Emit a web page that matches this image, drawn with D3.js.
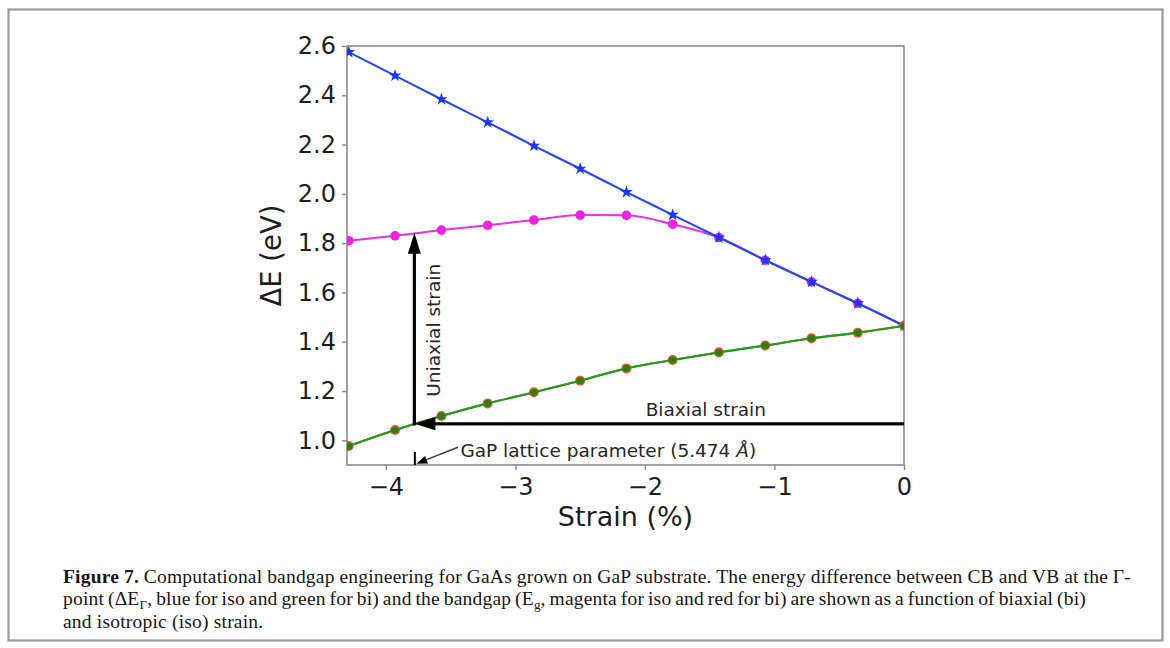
<!DOCTYPE html>
<html>
<head>
<meta charset="utf-8">
<script src="https://cdn.jsdelivr.net/npm/d3@7"></script>
<style>
  html, body { margin: 0; padding: 0; background: #fff; }
  svg { display: block; }
</style>
</head>
<body>
<svg id="fig" width="1170" height="648"></svg>
<script>
// Strain (%) of the GaAs cell relative to its equilibrium lattice constant
const strain   = [-4.286, -3.929, -3.571, -3.214, -2.857, -2.500, -2.143, -1.786, -1.429, -1.071, -0.714, -0.357, 0.0];
// CB-VB difference at Gamma, isotropic strain (blue)
const gammaIso = [2.575, 2.480, 2.384, 2.290, 2.195, 2.102, 2.007, 1.915, 1.823, 1.731, 1.643, 1.556, 1.465];
// Bandgap, isotropic strain (magenta)
const gapIso   = [1.810, 1.830, 1.853, 1.873, 1.894, 1.914, 1.913, 1.877, 1.823, 1.731, 1.643, 1.556, 1.465];
// CB-VB difference at Gamma, biaxial strain (green)
const gammaBi  = [0.977, 1.042, 1.099, 1.150, 1.195, 1.242, 1.292, 1.326, 1.357, 1.385, 1.414, 1.437, 1.465];
// Bandgap, biaxial strain (red)
const gapBi    = [0.977, 1.042, 1.099, 1.150, 1.195, 1.242, 1.292, 1.326, 1.357, 1.385, 1.414, 1.437, 1.465];

const xTicks = [-4, -3, -2, -1, 0];
const yTicks = [1.0, 1.2, 1.4, 1.6, 1.8, 2.0, 2.2, 2.4, 2.6];

// Strain at the GaP lattice parameter and the arrow levels drawn from it
const gapStrain    = -3.78;
const biaxialLevel = 1.067;
const uniaxialTop  = 1.842;

const xLabel = "Strain (%)";
const yLabel = "ΔE (eV)";

const svg = d3.select("#fig");
const plot = { left: 347, right: 904, top: 46, bottom: 465 };

const x = d3.scaleLinear().domain([-4.3, 0]).range([plot.left, plot.right]);
const y = d3.scaleLinear().domain([0.9, 2.6]).range([plot.bottom, plot.top]);

const sans = "'DejaVu Sans', sans-serif";
const serif = "'Liberation Serif', 'DejaVu Serif', serif";
const ink = "#1e1e1e";
const spine = "#8a8a8a";

// outer figure border
svg.append("rect")
  .attr("x", 8.5).attr("y", 9.5).attr("width", 1154).attr("height", 631)
  .attr("fill", "none").attr("stroke", "#9a9a9a").attr("stroke-width", 2.2);

const g = svg.append("g");

// clip region for the data
svg.append("defs").append("clipPath").attr("id", "plotClip")
  .append("rect")
  .attr("x", plot.left).attr("y", plot.top)
  .attr("width", plot.right - plot.left).attr("height", plot.bottom - plot.top);

// axes
const xAxis = d3.axisBottom(x).tickValues(xTicks).tickSize(5).tickPadding(8)
  .tickFormat(d => d3.format("d")(d).replace("-", "\u2212"));
const yAxis = d3.axisLeft(y).tickValues(yTicks).tickSize(5).tickPadding(6)
  .tickFormat(d3.format(".1f"));

const gx = g.append("g").attr("transform", `translate(0,${plot.bottom})`).call(xAxis);
const gy = g.append("g").attr("transform", `translate(${plot.left},0)`).call(yAxis);
[gx, gy].forEach(ax => {
  ax.select(".domain").remove();
  ax.selectAll(".tick line").attr("stroke", spine).attr("stroke-width", 1.4);
  ax.selectAll(".tick text").attr("fill", ink).style("font-family", sans).style("font-size", "24px");
});

// frame
g.append("rect")
  .attr("x", plot.left).attr("y", plot.top)
  .attr("width", plot.right - plot.left).attr("height", plot.bottom - plot.top)
  .attr("fill", "none").attr("stroke", spine).attr("stroke-width", 1.6);

// axis titles
g.append("text")
  .attr("x", (plot.left + plot.right) / 2).attr("y", 526)
  .attr("text-anchor", "middle").attr("fill", ink)
  .style("font-family", sans).style("font-size", "27px")
  .text(xLabel);
g.append("text")
  .attr("transform", `translate(281,${(plot.top + plot.bottom) / 2}) rotate(-90)`)
  .attr("text-anchor", "middle").attr("fill", ink)
  .style("font-family", sans).style("font-size", "27.5px")
  .text(yLabel);

// data series
const data = g.append("g").attr("clip-path", "url(#plotClip)");
const lineGen = vals => d3.line()
  .x((d, i) => x(strain[i]))
  .y(d => y(d))
  .curve(d3.curveMonotoneX)(vals);

function series(vals, color, width) {
  data.append("path").attr("d", lineGen(vals))
    .attr("fill", "none").attr("stroke", color).attr("stroke-width", width)
    .attr("stroke-linejoin", "round");
}
function dots(vals, color, r) {
  data.append("g").selectAll("circle").data(vals).join("circle")
    .attr("cx", (d, i) => x(strain[i])).attr("cy", d => y(d))
    .attr("r", r).attr("fill", color);
}
function stars(vals, color, size) {
  const sym = d3.symbol().type(d3.symbolStar).size(size);
  data.append("g").selectAll("path").data(vals).join("path")
    .attr("transform", (d, i) => `translate(${x(strain[i])},${y(d)})`)
    .attr("d", sym).attr("fill", color);
}

series(gapIso, "#ef2ee3", 2);
dots(gapIso, "#ee22e0", 4.8);
series(gammaIso, "#2248ee", 2.1);
stars(gammaIso, "#1c35f0", 50);
series(gapBi, "#e8552a", 2);
dots(gapBi, "#ea5a2c", 5);
series(gammaBi, "#1f9d22", 2.1);
dots(gammaBi, "#2e7e16", 3.6);

// strain arrows from the GaP lattice point
const ax0 = x(gapStrain), ay0 = y(biaxialLevel);
const lw = 3.2, headL = 21, headW = 13;
const ann = g.append("g").attr("fill", "#000").attr("stroke", "none");
// biaxial: from zero strain back to the GaP lattice parameter
ann.append("rect")
  .attr("x", ax0 + headL - 1).attr("y", ay0 - lw / 2)
  .attr("width", x(0) - ax0 - headL + 1).attr("height", lw);
ann.append("path")
  .attr("d", `M${ax0},${ay0} L${ax0 + headL},${ay0 - headW / 2} L${ax0 + headL},${ay0 + headW / 2} Z`);
// uniaxial: from the biaxial point up to the isotropic bandgap
const ayTop = y(uniaxialTop);
ann.append("rect")
  .attr("x", ax0 - lw / 2).attr("y", ayTop + headL - 1)
  .attr("width", lw).attr("height", ay0 - ayTop - headL + 1 + lw / 2);
ann.append("path")
  .attr("d", `M${ax0},${ayTop} L${ax0 - headW / 2},${ayTop + headL} L${ax0 + headW / 2},${ayTop + headL} Z`);

g.append("text")
  .attr("transform", `translate(${ax0 + 26},${(ayTop + ay0) / 2 + 2}) rotate(-90)`)
  .attr("text-anchor", "middle").attr("fill", "#262626")
  .style("font-family", sans).style("font-size", "18.5px")
  .text("Uniaxial strain");
g.append("text")
  .attr("x", x(-1.53)).attr("y", ay0 - 8)
  .attr("text-anchor", "middle").attr("fill", "#262626")
  .style("font-family", sans).style("font-size", "18.5px")
  .text("Biaxial strain");

// GaP lattice parameter marker and label
g.append("line")
  .attr("x1", ax0 + 0.5).attr("x2", ax0 + 0.5)
  .attr("y1", y(0.9)).attr("y2", y(0.953))
  .attr("stroke", "#000").attr("stroke-width", 2);
const tipX = x(-3.765), tipY = y(0.905);
const startX = x(-3.443), startY = y(0.972);
const ang = Math.atan2(startY - tipY, startX - tipX);
const hl = 11, hw = 4;
const bx = tipX + hl * Math.cos(ang), by = tipY + hl * Math.sin(ang);
g.append("line")
  .attr("x1", startX).attr("y1", startY).attr("x2", bx).attr("y2", by)
  .attr("stroke", "#3a3a3a").attr("stroke-width", 1.4);
g.append("path")
  .attr("d", `M${tipX},${tipY} L${bx - hw * Math.sin(ang)},${by + hw * Math.cos(ang)} L${bx + hw * Math.sin(ang)},${by - hw * Math.cos(ang)} Z`)
  .attr("fill", "#000");
const lat = g.append("text")
  .attr("x", x(-3.44) + 2).attr("y", y(0.9325))
  .attr("fill", "#262626")
  .style("font-family", sans).style("font-size", "18.5px");
lat.append("tspan").text("GaP lattice parameter (5.474 ");
lat.append("tspan").attr("font-style", "italic").text("Å");
lat.append("tspan").text(")");

// caption; the two full lines are justified by adjusting word spacing
const cap = svg.append("g").style("font-family", serif).style("font-size", "19.5px")
  .attr("letter-spacing", 0.2).attr("fill", "#151515");
const capX = 63;
const l1 = cap.append("text").attr("x", capX).attr("y", 582.5);
l1.append("tspan").attr("font-weight", "bold").text("Figure 7.");
l1.append("tspan").text(" Computational bandgap engineering for GaAs grown on GaP substrate. The energy difference between CB and VB at the Γ-");
const l2 = cap.append("text").attr("x", capX).attr("y", 605);
l2.append("tspan").text("point (ΔE");
l2.append("tspan").attr("font-size", "13px").attr("dy", 4).text("Γ");
l2.append("tspan").attr("dy", -4).text(", blue for iso and green for bi) and the bandgap (E");
l2.append("tspan").attr("font-size", "13px").attr("dy", 4).text("g");
l2.append("tspan").attr("dy", -4).text(", magenta for iso and red for bi) are shown as a function of biaxial (bi)");
cap.append("text").attr("x", capX).attr("y", 627.5).text("and isotropic (iso) strain.");

function fitWidth(sel, target) {
  const node = sel.node();
  const w = node.getComputedTextLength();
  const spaces = (node.textContent.match(/ /g) || []).length;
  if (spaces > 0) sel.attr("word-spacing", ((target - w) / spaces).toFixed(2));
}
fitWidth(l1, 1131 - capX);
fitWidth(l2, 1086 - capX);
</script>
</body>
</html>
